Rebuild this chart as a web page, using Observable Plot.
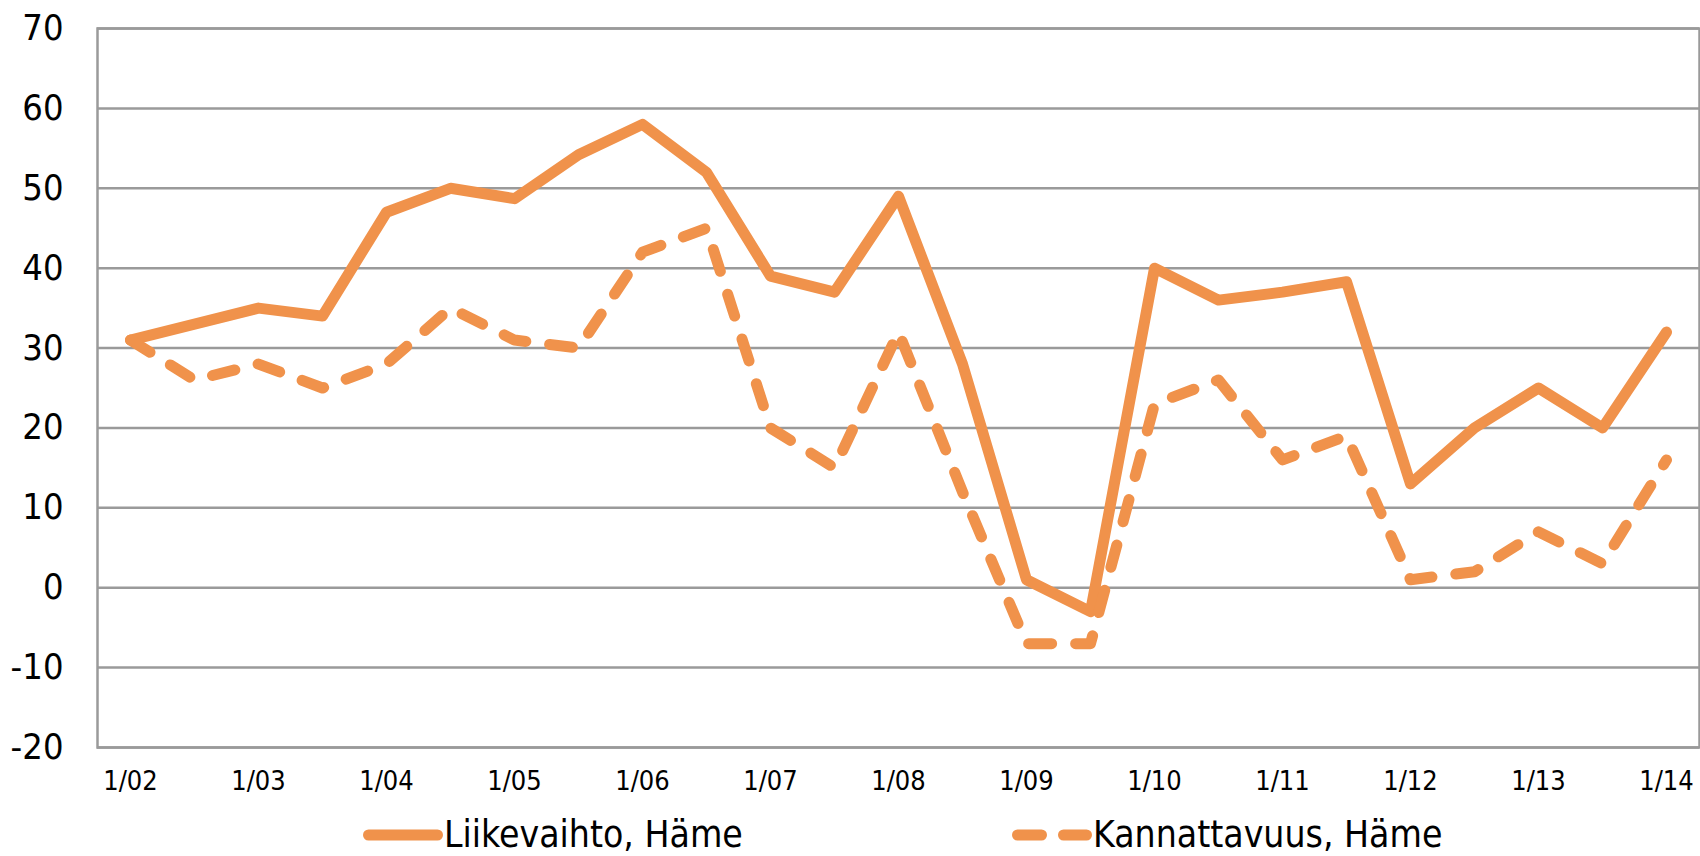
<!DOCTYPE html>
<html>
<head>
<meta charset="utf-8">
<script src="https://cdn.jsdelivr.net/npm/d3@7"></script>
<script src="https://cdn.jsdelivr.net/npm/@observablehq/plot@0.6"></script>
<style>
  html, body { margin: 0; padding: 0; background: #fff; }
  #wrap { position: relative; width: 1700px; height: 856px; overflow: hidden;
          font-family: "DejaVu Sans Condensed", "Liberation Sans", sans-serif; color: #000; }
  #legend { position: absolute; left: 0; top: 815px; width: 1700px; height: 40px; }
  .item { position: absolute; top: 0; height: 40px; display: flex; align-items: center; }
  .item svg { display: block; }
  .item span { font-size: 37px; line-height: 40px; white-space: nowrap; margin-left: 1px; }
</style>
</head>
<body>
<div id="wrap">
  <div id="chart"></div>
  <div id="legend"></div>
</div>
<script>
// Half-year periods (25 categories)
const periods = [
  "1/02","7/02","1/03","7/03","1/04","7/04","1/05","7/05","1/06","7/06",
  "1/07","7/07","1/08","7/08","1/09","7/09","1/10","7/10","1/11","7/11",
  "1/12","7/12","1/13","7/13","1/14"
];
// Liikevaihto, Häme (solid)
const liikevaihto = [
  31, 33, 35, 34, 47, 50, 48.7, 54.2, 58, 52,
  39, 37, 49, 28, 1, -3, 40, 36, 37, 38.3,
  13, 20, 25, 20, 32
];
// Kannattavuus, Häme (dashed)
const kannattavuus = [
  31, 26, 28, 25, 28, 35, 31, 30, 42, 45,
  20, 15, 32, 12, -7, -7, 23, 26, 16, 19,
  1, 2, 7, 3, 16
];
const xTickLabels = ["1/02","1/03","1/04","1/05","1/06","1/07","1/08","1/09","1/10","1/11","1/12","1/13","1/14"];
const yTicks = [-20, -10, 0, 10, 20, 30, 40, 50, 60, 70];
const seriesNames = ["Liikevaihto, Häme", "Kannattavuus, Häme"];

const lineColor = "#f0924b";
const gridColor = "#9a9a9a";
const dash = "23,24";

const rowsA = periods.map((p, i) => ({period: p, value: liikevaihto[i]}));
const rowsB = periods.map((p, i) => ({period: p, value: kannattavuus[i]}));

const chart = Plot.plot({
  width: 1700,
  height: 805,
  marginLeft: 97,
  marginRight: 1,
  marginTop: 28,
  marginBottom: 58,
  style: {fontFamily: "'DejaVu Sans Condensed', 'Liberation Sans', sans-serif", background: "#fff", color: "#000", overflow: "visible"},
  x: {type: "point", domain: periods, padding: 0.5, label: null},
  y: {domain: [-20, 70], label: null},
  marks: [
    Plot.ruleY(yTicks, {stroke: gridColor, strokeWidth: 2.5}),
    Plot.frame({stroke: gridColor, strokeWidth: 2.5}),
    Plot.axisY({ticks: yTicks, tickFormat: d => String(d), tickSize: 0, tickPadding: 34, fontSize: 36, label: null, fill: "#000"}),
    Plot.axisX({ticks: xTickLabels, tickSize: 0, tickPadding: 23, fontSize: 27, label: null, fill: "#000"}),
    Plot.line(rowsA, {x: "period", y: "value", stroke: lineColor, strokeWidth: 11,
      strokeLinecap: "round", strokeLinejoin: "round"}),
    Plot.line(rowsB, {x: "period", y: "value", stroke: lineColor, strokeWidth: 11,
      strokeDasharray: dash, strokeLinecap: "round", strokeLinejoin: "round"})
  ]
});
document.getElementById("chart").appendChild(chart);

// Legend
const legend = document.getElementById("legend");
const legendLefts = [363, 1012];
seriesNames.forEach((name, i) => {
  const item = document.createElement("div");
  item.className = "item";
  item.style.left = legendLefts[i] + "px";
  const ns = "http://www.w3.org/2000/svg";
  const svg = document.createElementNS(ns, "svg");
  svg.setAttribute("width", 80);
  svg.setAttribute("height", 14);
  const ln = document.createElementNS(ns, "line");
  ln.setAttribute("x1", 5.5); ln.setAttribute("x2", 74.5);
  ln.setAttribute("y1", 7); ln.setAttribute("y2", 7);
  ln.setAttribute("stroke", lineColor);
  ln.setAttribute("stroke-width", 11);
  ln.setAttribute("stroke-linecap", "round");
  if (i === 1) ln.setAttribute("stroke-dasharray", "24,22");
  svg.appendChild(ln);
  item.appendChild(svg);
  const sp = document.createElement("span");
  sp.textContent = name;
  item.appendChild(sp);
  legend.appendChild(item);
});
</script>
</body>
</html>
